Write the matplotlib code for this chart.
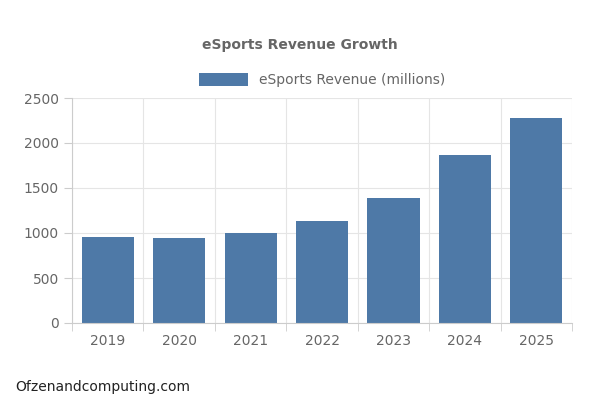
import matplotlib
matplotlib.use("Agg")
import matplotlib.pyplot as plt

years = ["2019", "2020", "2021", "2022", "2023", "2024", "2025"]
revenue = [957, 947, 1000, 1138, 1384, 1866, 2280]
yticks = [0, 500, 1000, 1500, 2000, 2500]

fig = plt.figure(figsize=(6, 4), dpi=100)
ax = fig.add_axes([72/600, 1-323/400, 500/600, 225/400])
x = range(len(years))
ax.bar(x, revenue, width=0.73, color="#4e79a7", label="eSports Revenue (millions)", zorder=2)
ax.set_xlim(-0.5, len(years)-0.5)
ax.set_ylim(0, 2500)
ax.set_yticks(yticks)
ax.set_xticks(list(x))
ax.set_xticklabels(years)
ax.set_xticks([i-0.5 for i in range(len(years)+1)], minor=True)
ax.grid(True, which="minor", axis="x", color="#e5e5e5", lw=0.8, zorder=0)
ax.grid(True, which="major", axis="y", color="#e5e5e5", lw=0.8, zorder=0)
ax.tick_params(which="major", axis="x", length=0, pad=8, labelsize=10, colors="#666666")
ax.tick_params(which="minor", axis="x", length=6, color="#cccccc")
ax.tick_params(axis="y", length=6, color="#cccccc", labelsize=10, colors="#666666")
for s in ["top", "right"]:
    ax.spines[s].set_visible(False)
for s in ["left", "bottom"]:
    ax.spines[s].set_color("#cccccc")
fig.text(300/600, 1-45/400, "eSports Revenue Growth", ha="center", va="center",
         fontsize=10, fontweight="bold", color="#666666")
ax.legend(loc="center", bbox_to_anchor=(0.5, (80-98)/-225+1), frameon=False,
          fontsize=10, labelcolor="#666666", handlelength=3.5, handleheight=1.1)
fig.text(15/600, 1-387/400, "Ofzenandcomputing.com", ha="left", va="center",
         fontsize=10, color="#222222")
fig.savefig("out.png", dpi=100)
